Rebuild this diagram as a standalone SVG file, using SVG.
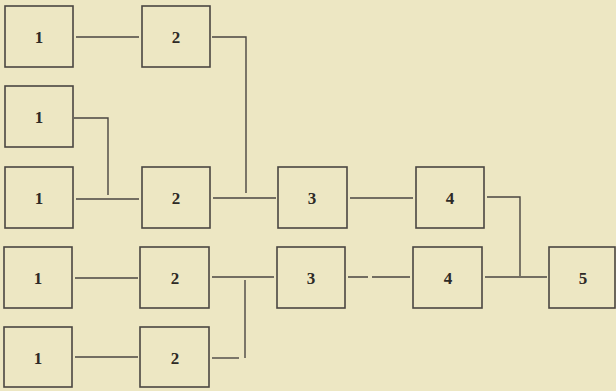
<svg xmlns="http://www.w3.org/2000/svg" width="616" height="391" viewBox="0 0 616 391">
<style>
.box{fill:none;stroke:#4a4642;stroke-width:1.6}
.lbl{font-family:"Liberation Serif","DejaVu Serif",serif;font-weight:bold;font-size:17px;fill:#2e2a26;text-anchor:middle}
.c{fill:none;stroke:#4a4642;stroke-width:1.4}
</style>
<rect width="616" height="391" fill="#ede7c3"/>
<g id="n1a"><rect class="box" x="5" y="6" width="68" height="61"/><text class="lbl" x="39" y="43">1</text></g>
<g id="n2a"><rect class="box" x="142" y="6" width="68" height="61"/><text class="lbl" x="176" y="43">2</text></g>
<g id="n1b"><rect class="box" x="5" y="86" width="68" height="61"/><text class="lbl" x="39" y="123">1</text></g>
<g id="n1c"><rect class="box" x="5" y="167" width="68" height="61"/><text class="lbl" x="39" y="204">1</text></g>
<g id="n2c"><rect class="box" x="142" y="167" width="68" height="61"/><text class="lbl" x="176" y="204">2</text></g>
<g id="n3c"><rect class="box" x="278" y="167" width="69" height="61"/><text class="lbl" x="312" y="204">3</text></g>
<g id="n4c"><rect class="box" x="416" y="167" width="68" height="61"/><text class="lbl" x="450" y="204">4</text></g>
<g id="n1d"><rect class="box" x="4" y="247" width="68" height="61"/><text class="lbl" x="38" y="284">1</text></g>
<g id="n2d"><rect class="box" x="140" y="247" width="69" height="61"/><text class="lbl" x="175" y="284">2</text></g>
<g id="n3d"><rect class="box" x="277" y="247" width="68" height="61"/><text class="lbl" x="311" y="284">3</text></g>
<g id="n4d"><rect class="box" x="413" y="247" width="69" height="61"/><text class="lbl" x="448" y="284">4</text></g>
<g id="n5"><rect class="box" x="549" y="247" width="66" height="61"/><text class="lbl" x="583" y="284">5</text></g>
<g id="n1e"><rect class="box" x="4" y="327" width="68" height="60"/><text class="lbl" x="38" y="364">1</text></g>
<g id="n2e"><rect class="box" x="140" y="327" width="69" height="60"/><text class="lbl" x="175" y="364">2</text></g>
<g id="connectors">
<path class="c" d="M76 37H139"/>
<path class="c" d="M212 37H246V193"/>
<path class="c" d="M74 118H108V195"/>
<path class="c" d="M76 199H139"/>
<path class="c" d="M213 198H276"/>
<path class="c" d="M350 198H413"/>
<path class="c" d="M487 197H520V276"/>
<path class="c" d="M485 277H547"/>
<path class="c" d="M75 278H138"/>
<path class="c" d="M212 277H274"/>
<path class="c" d="M348 277H368M372 277H410"/>
<path class="c" d="M75 357H138"/>
<path class="c" d="M212 358H239"/>
<path class="c" d="M245 280V358"/>
</g>
</svg>
